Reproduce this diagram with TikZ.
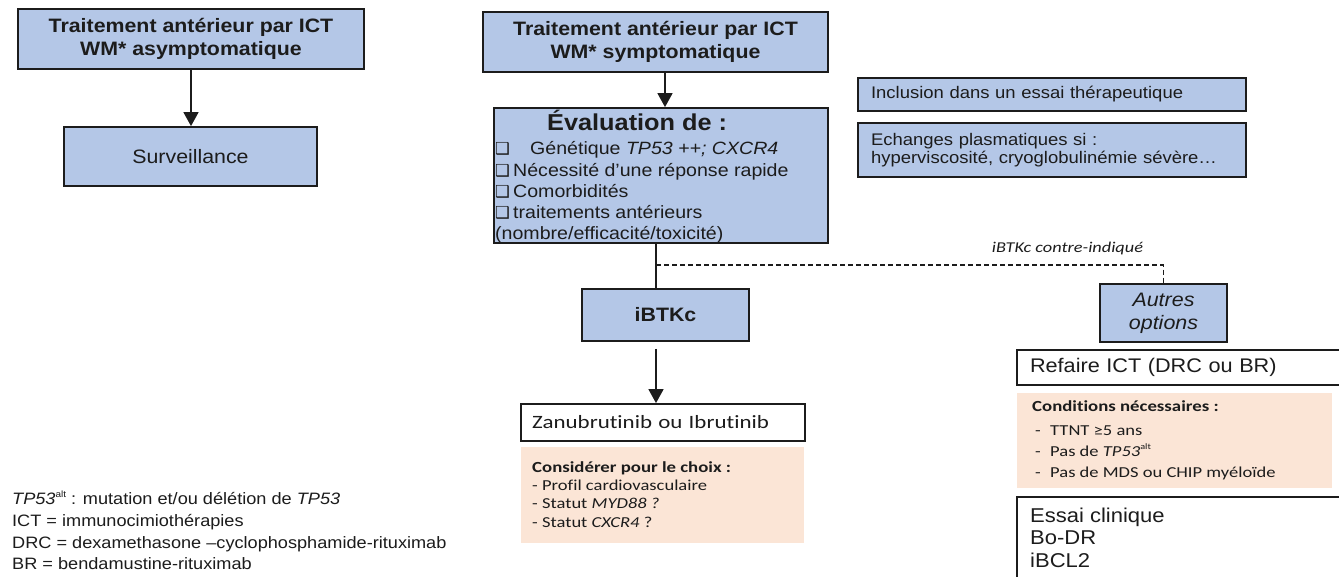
\documentclass[tikz,border=0pt]{standalone}
\usepackage{fontspec}
\setmainfont{Liberation Sans}[FakeStretch=1.1]
\newfontfamily\calfont{Carlito}[FakeStretch=1.22, Ligatures=NoCommon]
\newfontfamily\symfont{DejaVu Sans}
\usetikzlibrary{arrows.meta,calc}

\definecolor{boxblue}{HTML}{B4C7E7}
\definecolor{peach}{HTML}{FBE5D6}
\definecolor{ink}{HTML}{1C1C1C}

% font presets (1pt = 1px of the final image)
\newcommand\fHead{\bfseries\fontsize{19.4}{23.3}\selectfont}
\newcommand\fBody{\fontsize{19.4}{23}\selectfont}
\newcommand\fTitle{\bfseries\fontsize{23}{26}\selectfont}
\newcommand\fItem{\fontsize{17.8}{21}\selectfont}
\newcommand\fSide{\fontsize{16.8}{18.5}\selectfont}
\newcommand\fNote{\fontsize{16.5}{21}\selectfont}
\newcommand\fCal{\calfont\fontsize{15.2}{18}\selectfont}
\newcommand\fCalB{\calfont\bfseries\fontsize{15.4}{18}\selectfont}
% shadowed check box and small raised "alt"
\newcommand\chk[1][18pt]{\makebox[#1][l]{{\symfont\fontsize{16.5}{16.5}\selectfont ❑}}}
\newcommand\altsup{\raisebox{0.42em}{\fontsize{0.55em}{0.6em}\selectfont alt}}

\begin{document}
\begin{tikzpicture}[x=1pt,y=-1pt,
  every node/.append style={text=ink},
  bluebox/.style={draw=ink, line width=1.8pt, fill=boxblue, inner sep=0pt, align=center},
  whitebox/.style={draw=ink, line width=1.8pt, fill=white, inner sep=0pt},
  peachbox/.style={fill=peach, inner sep=0pt},
  txt/.style={inner sep=0pt, anchor=base west},
  link/.style={draw=ink, line width=1.6pt},
  arr/.style={link, -{Triangle[length=14pt,width=15pt]}},
  dashlink/.style={link, dash pattern=on 5pt off 3pt}]

\useasboundingbox (0,0) rectangle (1339,576);
\clip (0,0) rectangle (1339,576);
\fill[white] (0,0) rectangle (1339,576);

% ---------- asymptomatic branch ----------
\node[bluebox, minimum width=346pt, minimum height=60pt, font=\fHead] (asym) at (191,39)
  {Traitement antérieur par ICT\\WM* asymptomatique};
\node[bluebox, minimum width=253pt, minimum height=59pt, font=\fBody] (surv) at (190.5,156.5)
  {Surveillance};
\draw[arr] (asym.south) -- (asym.south |- surv.north);

% ---------- symptomatic branch ----------
\node[bluebox, minimum width=345pt, minimum height=60pt, font=\fHead] (sympt) at (655.5,42)
  {Traitement antérieur par ICT\\WM* symptomatique};
\node[bluebox, minimum width=334pt, minimum height=135pt] (eval) at (661,175.5) {};
\coordinate (drop) at (665,0);
\draw[arr] (sympt.south -| drop) -- (eval.north -| drop);

\node[txt, font=\fTitle] (evtitle) at (547,130) {Évaluation de :};
\node[txt, font=\fItem] (ev1) at (495,154) {\chk[35pt]Génétique \textit{TP53 ++; CXCR4}};
\node[txt, font=\fItem] (ev2) at (495,176) {\chk Nécessité d’une réponse rapide};
\node[txt, font=\fItem] (ev3) at (495,197) {\chk Comorbidités};
\node[txt, font=\fItem] (ev4) at (495,218) {\chk traitements antérieurs};
\node[txt, font=\fItem] (ev5) at (495,239) {(nombre/efficacité/toxicité)};

\coordinate (stem) at (656,0);
\node[bluebox, minimum width=167pt, minimum height=52pt, font=\fHead] (ibtk) at (665.5,315) {iBTKc};
\draw[link] (eval.south -| stem) -- (ibtk.north -| stem);

\node[bluebox, minimum width=127pt, minimum height=58pt, font=\itshape\fontsize{19.5}{23}\selectfont]
  (autres) at (1163.5,313) {Autres\\options};
\coordinate (split) at (656,265);
\draw[dashlink] (split) -| (autres.north);
\node[inner sep=0pt, anchor=base, font=\calfont\itshape\fontsize{15}{18}\selectfont] (ci) at (1067.5,252)
  {iBTKc contre-indiqué};

\node[whitebox, minimum width=284pt, minimum height=37pt, text width=262pt, inner xsep=11pt,
  align=left, font=\calfont\fontsize{18.8}{22}\selectfont] (zan) at (663,422.5) {Zanubrutinib ou Ibrutinib};
\draw[arr] ($(ibtk.south -| stem)+(0,7)$) -- (zan.north -| stem);

\node[peachbox, minimum width=283pt, minimum height=96pt] (cons) at (662.5,495) {};
\node[txt, font=\fCalB] (c0) at (532,472) {Considérer pour le choix :};
\node[txt, font=\fCal] (c1) at (532,490) {- Profil cardiovasculaire};
\node[txt, font=\fCal] (c2) at (532,508) {- Statut \textit{MYD88 ?}};
\node[txt, font=\fCal] (c3) at (532,527) {- Statut \textit{CXCR4} ?};

% ---------- side boxes ----------
\node[bluebox, minimum width=388pt, minimum height=33pt, text width=362pt, inner xsep=13pt,
  align=left, font=\fSide] (incl) at (1052,94.5) {Inclusion dans un essai thérapeutique};
\node[bluebox, minimum width=388pt, minimum height=54pt, text width=362pt, inner xsep=13pt,
  align=left, font=\fSide] (ech) at (1052,150)
  {Echanges plasmatiques si :\\hyperviscosité, cryoglobulinémie sévère…};

% ---------- other options ----------
\node[whitebox, minimum width=343pt, minimum height=35pt, text width=317pt, inner xsep=13pt,
  align=left, font=\fontsize{19.7}{23}\selectfont] (refaire) at (1188.5,367.5) {Refaire ICT (DRC ou BR)};

\node[peachbox, minimum width=315pt, minimum height=95pt] (cond) at (1174.5,440.5) {};
\node[txt, font=\fCalB] (d0) at (1032,411) {Conditions nécessaires :};
\node[txt, font=\fCal] (d1) at (1035,435) {\makebox[15pt][l]{-}TTNT ≥5 ans};
\node[txt, font=\fCal] (d2) at (1035,456) {\makebox[15pt][l]{-}Pas de \textit{TP53}\altsup};
\node[txt, font=\fCal] (d3) at (1035,477) {\makebox[15pt][l]{-}Pas de MDS ou CHIP myéloïde};

\node[whitebox, minimum width=343pt, minimum height=103pt] (essai) at (1188.5,548.5) {};
\node[txt, font=\fontsize{20}{22.5}\selectfont] (s1) at (1030,522) {Essai clinique};
\node[txt, font=\fontsize{20}{22.5}\selectfont] (s2) at (1030,544) {Bo-DR};
\node[txt, font=\fontsize{20}{22.5}\selectfont] (s3) at (1030,567) {iBCL2};

% ---------- abbreviations ----------
\node[txt, font=\fNote] (n1) at (12,504) {\textit{TP53}\altsup\ : mutation et/ou délétion de \textit{TP53}};
\node[txt, font=\fNote] (n2) at (12,526) {ICT = immunocimiothérapies};
\node[txt, font=\fNote] (n3) at (12,548) {DRC = dexamethasone –cyclophosphamide-rituximab};
\node[txt, font=\fNote] (n4) at (12,569) {BR = bendamustine-rituximab};
\end{tikzpicture}
\end{document}
